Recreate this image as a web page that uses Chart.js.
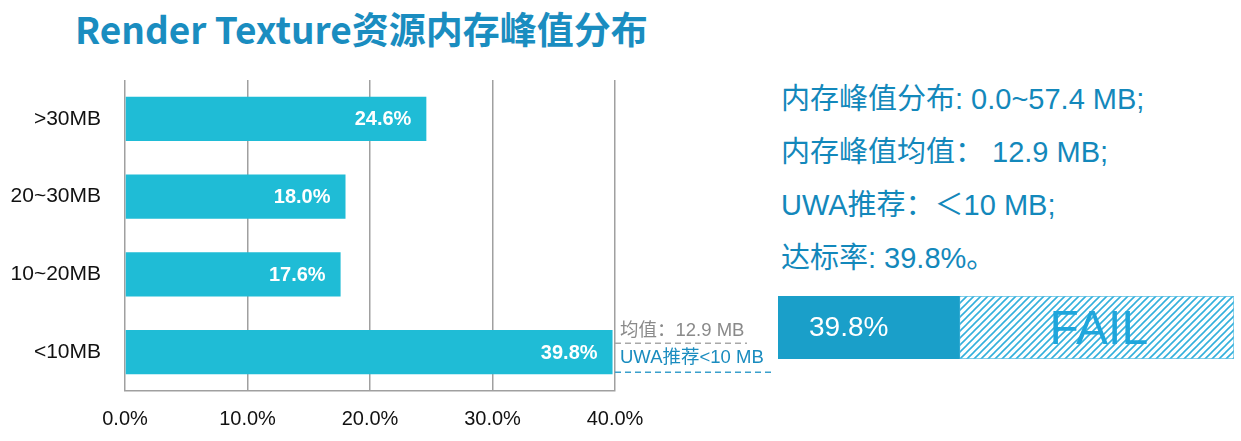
<!DOCTYPE html>
<html>
<head>
<meta charset="utf-8">
<script src="https://cdn.jsdelivr.net/npm/chart.js@4.4.1/dist/chart.umd.min.js"></script>
<style>
  html, body { margin: 0; padding: 0; background: #fff; }
  body { width: 1241px; height: 441px; position: relative; overflow: hidden; }
  #title {
    position: absolute; left: 75px; top: 1px;
    font-family: "Noto Sans CJK SC", sans-serif; font-weight: 700;
    font-size: 37px; color: #1a8dc0; white-space: nowrap;
  }
  #mainWrap { position: absolute; left: 0; top: 0; width: 780px; height: 441px; }
  #notes {
    position: absolute; left: 781px; top: 73px;
    font-family: "Liberation Sans", "Noto Sans CJK SC", sans-serif;
    font-size: 29px; color: #1388bb; line-height: 53px; white-space: pre;
  }
  #statusWrap { position: absolute; left: 778px; top: 296px; width: 456px; height: 63px; }
</style>
</head>
<body>
<div id="title">Render Texture资源内存峰值分布</div>
<div id="mainWrap"><canvas id="mainChart"></canvas></div>
<div id="notes"></div>
<div id="statusWrap"><canvas id="statusChart"></canvas></div>

<script>
// ── Data ─────────────────────────────────────────────────────
const categories = ['>30MB', '20~30MB', '10~20MB', '<10MB'];
const shares     = [24.6, 18.0, 17.6, 39.8];          // % of projects
const xTicks     = [0, 10, 20, 30, 40];
const avgLabel   = '均值：12.9 MB';
const recLabel   = 'UWA推荐<10 MB';
const noteLines  = [
  '内存峰值分布: 0.0~57.4 MB;',
  '内存峰值均值： 12.9 MB;',
  'UWA推荐：＜10 MB;',
  '达标率: 39.8%。',
];
const passRate   = [39.8];
const failRate   = [60.2];
const failText   = 'FAIL';

const BAR   = '#1fbcd6';
const GRID  = '#a0a0a0';
const BLUE  = '#1a8cbf';
const FONT  = '"Liberation Sans", "Noto Sans CJK SC", sans-serif';

document.getElementById('notes').innerHTML = noteLines.map(t => `<div>${t}</div>`).join('');

// ── Value labels inside bars + right-hand annotations ───────
const barLabels = {
  id: 'barLabels',
  afterDatasetsDraw(chart) {
    const ctx = chart.ctx;
    const meta = chart.getDatasetMeta(0);
    ctx.save();
    ctx.font = 'bold 20px ' + FONT;
    ctx.fillStyle = '#fff';
    ctx.textAlign = 'right';
    ctx.textBaseline = 'middle';
    meta.data.forEach((bar, i) => {
      ctx.fillText(shares[i].toFixed(1) + '%', bar.x - 15, bar.y + 1);
    });

    // annotations next to the last bar
    const last = meta.data[meta.data.length - 1];
    const x0 = chart.chartArea.right;
    ctx.textAlign = 'left';
    ctx.textBaseline = 'middle';
    ctx.font = '18.5px ' + FONT;
    ctx.fillStyle = '#8a8a8a';
    ctx.fillText(avgLabel, x0 + 5, last.y - 21);
    ctx.fillStyle = BLUE;
    ctx.fillText(recLabel, x0 + 5, last.y + 6);

    ctx.setLineDash([6, 4]);
    ctx.lineWidth = 1.5;
    ctx.strokeStyle = '#a8a8a8';
    ctx.beginPath(); ctx.moveTo(x0, last.y - 9); ctx.lineTo(x0 + 132, last.y - 9); ctx.stroke();
    ctx.strokeStyle = '#3a9fcc';
    ctx.beginPath(); ctx.moveTo(x0, last.y + 20); ctx.lineTo(x0 + 156, last.y + 20); ctx.stroke();
    ctx.restore();
  }
};

new Chart(document.getElementById('mainChart'), {
  type: 'bar',
  data: {
    labels: categories,
    datasets: [{ data: shares, backgroundColor: BAR, barPercentage: 0.57, categoryPercentage: 1 }],
  },
  options: {
    indexAxis: 'y',
    responsive: true, maintainAspectRatio: false,
    animation: false,
    layout: { padding: { left: 0, right: 165, top: 80, bottom: 0 } },
    plugins: { legend: { display: false }, tooltip: { enabled: false } },
    scales: {
      x: {
        min: 0, max: 40,
        afterBuildTicks: s => { s.ticks = xTicks.map(v => ({ value: v })); },
        afterFit: s => { s.height = 50; },
        ticks: { color: '#111', font: { family: FONT, size: 20 }, padding: 16,
                 callback: v => v.toFixed(1) + '%' },
        grid: { color: GRID, lineWidth: 1.5, drawTicks: false },
        border: { display: true, color: GRID, width: 1.5 },
      },
      y: {
        afterFit: s => { s.width = 125; },
        ticks: { color: '#111', font: { family: FONT, size: 21 }, padding: 24 },
        grid: { display: false, drawTicks: false },
        border: { display: false },
      },
    },
  },
  plugins: [barLabels],
});

// ── Pass / fail strip ────────────────────────────────────────
function hatch() {
  const c = document.createElement('canvas');
  c.width = 7; c.height = 7;
  const g = c.getContext('2d');
  g.fillStyle = '#fff'; g.fillRect(0, 0, 7, 7);
  g.strokeStyle = '#34b0dc'; g.lineWidth = 1.6;
  g.beginPath();
  g.moveTo(-1, 8); g.lineTo(8, -1);
  g.moveTo(-1, 1); g.lineTo(1, -1);
  g.moveTo(6, 8); g.lineTo(8, 6);
  g.stroke();
  return g.createPattern(c, 'repeat');
}

const statusText = {
  id: 'statusText',
  afterDatasetsDraw(chart) {
    const ctx = chart.ctx;
    const pass = chart.getDatasetMeta(0).data[0];
    const fail = chart.getDatasetMeta(1).data[0];
    ctx.save();
    ctx.textBaseline = 'middle';
    ctx.textAlign = 'left';
    ctx.fillStyle = '#fff';
    ctx.font = '28px ' + FONT;
    ctx.fillText(passRate[0].toFixed(1) + '%', chart.chartArea.left + 31, pass.y + 1);
    ctx.textAlign = 'center';
    ctx.fillStyle = '#1fa6dc';
    ctx.font = '48px ' + FONT;
    ctx.fillText(failText, (fail.base + fail.x) / 2 + 2, fail.y + 3);
    ctx.restore();
  }
};

new Chart(document.getElementById('statusChart'), {
  type: 'bar',
  data: {
    labels: [''],
    datasets: [
      { data: passRate, backgroundColor: '#1a9fc9', barPercentage: 1, categoryPercentage: 1 },
      { data: failRate, backgroundColor: hatch(), borderColor: '#5cc0e4', borderWidth: 1,
        borderSkipped: false, barPercentage: 1, categoryPercentage: 1 },
    ],
  },
  options: {
    indexAxis: 'y',
    responsive: true, maintainAspectRatio: false,
    animation: false,
    layout: { padding: 0 },
    plugins: { legend: { display: false }, tooltip: { enabled: false } },
    scales: {
      x: { stacked: true, min: 0, max: 100, display: false },
      y: { stacked: true, display: false },
    },
  },
  plugins: [statusText],
});
</script>
</body>
</html>
